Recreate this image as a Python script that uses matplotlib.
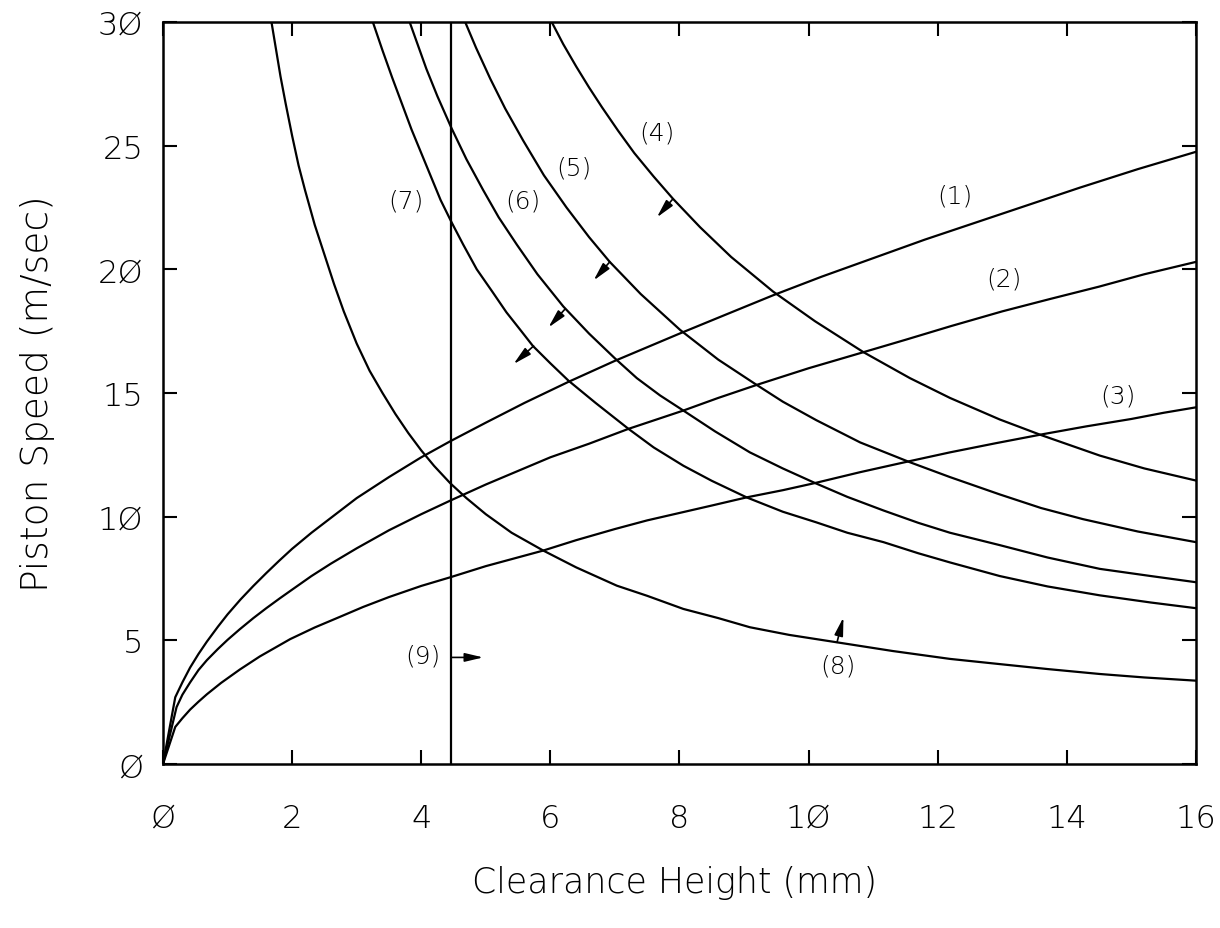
import numpy as np
import matplotlib.pyplot as plt
from matplotlib.ticker import FuncFormatter

# rising curves (1)-(3): clearance height (mm) vs piston speed (m/sec)
h1 = [0, 0.19, 0.3, 0.42, 0.55, 0.68, 0.85, 1.0, 1.2, 1.4, 1.6, 1.8, 2.0, 2.3, 2.6, 3.0,
      3.5, 4.0, 4.45, 5.0, 5.6, 6.28, 7.0, 7.5, 8.0, 8.7, 9.45, 10.2, 11.0, 11.8, 12.6,
      13.4, 14.2, 15.1, 16]
v1 = [0, 2.7, 3.3, 3.9, 4.45, 4.95, 5.55, 6.05, 6.65, 7.2, 7.72, 8.22, 8.7, 9.35, 9.95, 10.75,
      11.6, 12.4, 13.05, 13.8, 14.6, 15.45, 16.3, 16.85, 17.4, 18.15, 18.95, 19.7, 20.45, 21.2, 21.9,
      22.6, 23.3, 24.05, 24.75]

h2 = [0, 0.21, 0.3, 0.42, 0.55, 0.68, 0.85, 1.0, 1.19, 1.4, 1.6, 1.81, 2.0, 2.3, 2.6, 3.0,
      3.5, 4.0, 4.45, 5.0, 5.5, 6.0, 6.6, 7.21, 8.06, 8.6, 9.2, 10.0, 10.85, 11.5, 12.2,
      13.0, 13.74, 14.5, 15.2, 16]
v2 = [0, 2.3, 2.8, 3.3, 3.8, 4.2, 4.65, 5.02, 5.45, 5.9, 6.3, 6.7, 7.05, 7.6, 8.1, 8.72,
      9.45, 10.1, 10.65, 11.3, 11.85, 12.4, 12.95, 13.55, 14.29, 14.8, 15.33, 16.0, 16.65, 17.15, 17.7,
      18.3, 18.8, 19.3, 19.8, 20.3]

h3 = [0, 0.19, 0.3, 0.42, 0.55, 0.68, 0.9, 1.19, 1.5, 1.97, 2.35, 2.74, 3.1, 3.5, 4.0, 4.45,
      5.0, 5.89, 6.4, 7.0, 7.5, 8.0, 8.5, 9.04, 9.6, 10.1, 10.8, 11.54, 12.19, 12.9, 13.64,
      14.3, 15.0, 15.5, 16]
v3 = [0, 1.5, 1.85, 2.2, 2.52, 2.82, 3.28, 3.82, 4.35, 5.05, 5.52, 5.95, 6.35, 6.75, 7.2, 7.55,
      8.0, 8.63, 9.05, 9.5, 9.85, 10.15, 10.45, 10.78, 11.07, 11.36, 11.8, 12.23, 12.6, 12.97, 13.34,
      13.65, 13.95, 14.2, 14.42]

# falling curves (4)-(8)
h4 = [6.02, 6.2, 6.4, 6.6, 6.8, 7.05, 7.3, 7.6, 7.9, 8.32, 8.8, 9.45, 10.1, 10.85, 11.57,
      12.19, 12.96, 13.6, 14.51, 15.2, 16]
v4 = [30, 29.1, 28.2, 27.35, 26.55, 25.6, 24.7, 23.75, 22.85, 21.7, 20.5, 19.1, 17.9, 16.65, 15.6,
      14.8, 13.93, 13.3, 12.47, 11.95, 11.46]

h5 = [4.68, 4.85, 5.07, 5.3, 5.58, 5.9, 6.25, 6.6, 6.92, 7.4, 8.01, 8.6, 9.17, 9.6, 10.12,
      10.8, 11.57, 12.19, 12.96, 13.6, 14.25, 15.1, 16]
v5 = [30, 28.95, 27.7, 26.5, 25.2, 23.8, 22.5, 21.3, 20.3, 19.0, 17.55, 16.35, 15.37, 14.65, 13.9,
      13.0, 12.2, 11.6, 10.9, 10.35, 9.9, 9.4, 8.97]

h6 = [3.82, 3.95, 4.08, 4.25, 4.47, 4.7, 4.96, 5.2, 5.48, 5.8, 6.2, 6.6, 7.0, 7.34, 7.7,
      8.06, 8.55, 9.09, 9.6, 10.1, 10.6, 11.16, 11.7, 12.19, 12.96, 13.7, 14.51, 15.3, 16]
v6 = [30, 29.05, 28.1, 27.0, 25.7, 24.45, 23.2, 22.1, 21.0, 19.8, 18.5, 17.4, 16.4, 15.6, 14.9,
      14.29, 13.45, 12.6, 11.95, 11.36, 10.8, 10.25, 9.75, 9.35, 8.85, 8.35, 7.89, 7.6, 7.35]

h7 = [3.25, 3.4, 3.55, 3.7, 3.85, 4.0, 4.15, 4.3, 4.47, 4.65, 4.86, 5.1, 5.32, 5.55, 5.73,
      6.0, 6.28, 6.7, 7.21, 7.6, 8.06, 8.5, 9.04, 9.6, 10.12, 10.6, 11.16, 11.7, 12.19,
      12.96, 13.7, 14.51, 15.3, 16]
v7 = [30, 28.85, 27.75, 26.7, 25.65, 24.7, 23.75, 22.8, 21.9, 21.0, 20.0, 19.1, 18.26, 17.5, 16.9,
      16.2, 15.5, 14.6, 13.55, 12.8, 12.06, 11.45, 10.78, 10.2, 9.77, 9.35, 8.97, 8.52, 8.15,
      7.6, 7.18, 6.82, 6.53, 6.3]

h8 = [1.68, 1.75, 1.82, 1.9, 2.0, 2.1, 2.2, 2.35, 2.5, 2.65, 2.8, 3.0, 3.2, 3.4, 3.6,
      3.8, 4.0, 4.2, 4.45, 4.7, 5.0, 5.4, 5.89, 6.4, 7.03, 7.5, 8.06, 8.6, 9.09, 9.7,
      10.44, 11.3, 12.19, 12.96, 13.7, 14.51, 15.2, 16]
v8 = [30, 28.9, 27.8, 26.7, 25.4, 24.2, 23.2, 21.8, 20.6, 19.4, 18.3, 17.0, 15.9, 15.0, 14.15,
      13.38, 12.68, 12.05, 11.35, 10.75, 10.1, 9.35, 8.63, 7.95, 7.21, 6.8, 6.27, 5.9, 5.53, 5.22,
      4.92, 4.57, 4.25, 4.04, 3.84, 3.64, 3.5, 3.37]

# line (9): fixed clearance height
h9 = 4.46

curve_h = [h1, h2, h3, h4, h5, h6, h7, h8]
curve_v = [v1, v2, v3, v4, v5, v6, v7, v8]

label_text = ['(1)', '(2)', '(3)', '(4)', '(5)', '(6)', '(7)', '(8)', '(9)']
label_x = [12.27, 13.02, 14.79, 7.65, 6.36, 5.58, 3.77, 10.46, 4.03]
label_y = [22.97, 19.61, 14.88, 25.54, 24.12, 22.78, 22.78, 3.97, 4.37]

# little arrows: start on the curve, head pointing away
arrow_from = [(7.90, 22.85), (6.92, 20.3), (6.23, 18.4), (5.74, 16.9), (10.44, 4.92), (4.47, 4.31)]
arrow_to = [(7.65, 22.1), (6.67, 19.55), (5.97, 17.65), (5.43, 16.17), (10.54, 5.93), (4.96, 4.31)]

plt.rcParams['font.family'] = 'DejaVu Sans'
plt.rcParams['font.weight'] = 'light'

fig = plt.figure(figsize=(12.2, 9.29), dpi=100)
ax = fig.add_axes([0.1336, 0.1765, 0.8467, 0.7988])

for h, v in zip(curve_h, curve_v):
    ax.plot(h, v, color='black', lw=1.6)
ax.plot([h9, h9], [0, 30], color='black', lw=1.6)

for t, x, y in zip(label_text, label_x, label_y):
    ax.text(x, y, t, fontsize=18, ha='center', va='center')

for a, b in zip(arrow_from, arrow_to):
    ax.annotate('', xy=b, xytext=a,
                arrowprops=dict(arrowstyle='-|>,head_length=0.55,head_width=0.13',
                                color='black', lw=1.2, shrinkA=0, shrinkB=0,
                                mutation_scale=20))

ax.set_xlim(0, 16)
ax.set_ylim(0, 30)
ax.set_xticks(np.arange(0, 17, 2))
ax.set_yticks(np.arange(0, 31, 5))

slashed = FuncFormatter(lambda val, pos: str(int(val)).replace('0', '\u00d8'))
ax.xaxis.set_major_formatter(slashed)
ax.yaxis.set_major_formatter(slashed)

ax.tick_params(direction='in', top=True, right=True, length=10, width=1.5, labelsize=23)
ax.tick_params(axis='x', pad=28)
ax.tick_params(axis='y', pad=14)
for s in ax.spines.values():
    s.set_linewidth(1.8)

ax.set_xlabel('Clearance Height (mm)', fontsize=25, fontweight='light')
ax.set_ylabel('Piston Speed (m/sec)', fontsize=27, fontweight='light')
ax.xaxis.set_label_coords(0.495, -0.136)
ax.yaxis.set_label_coords(-0.105, 0.5)

fig.savefig('out.png', dpi=100)
